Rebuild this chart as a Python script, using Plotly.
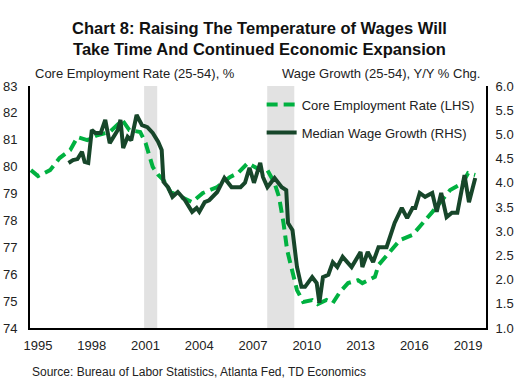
import plotly.graph_objects as go

# Core employment rate (25-54), % (LHS) — decimal year, value
emp_t = [1994.6, 1995.0, 1995.67, 1996.2, 1996.8, 1997.2, 1997.75, 1998.3, 1999.0, 1999.7,
         2000.1, 2000.7, 2001.0, 2001.4, 2001.7, 2002.0, 2002.4, 2003.1, 2003.6, 2004.2,
         2005.0, 2005.7, 2006.15, 2006.7, 2007.2, 2007.8, 2008.2, 2008.45, 2008.7, 2008.9,
         2009.2, 2009.45, 2009.8, 2010.3, 2010.6, 2011.1, 2011.45, 2011.85, 2012.3, 2012.85,
         2013.1, 2013.8, 2014.0, 2014.6, 2015.2, 2015.9, 2016.5, 2017.0, 2018.0, 2018.7,
         2019.0, 2019.4]
emp_v = [79.87, 79.65, 79.87, 80.32, 80.62, 81.10, 80.99, 81.17, 81.29, 81.73,
         81.36, 81.29, 80.88, 79.99, 79.70, 79.50, 79.06, 78.83, 78.68, 79.02,
         79.24, 79.61, 79.76, 80.13, 79.95, 79.87, 79.39, 78.87, 77.90, 76.90,
         76.04, 75.41, 74.97, 75.04, 74.89, 75.04, 74.93, 75.34, 75.67, 75.78,
         75.67, 75.90, 76.34, 76.79, 77.27, 77.46, 77.90, 78.31, 79.13, 79.39,
         79.76, 79.69]

# Median wage growth (25-54), Y/Y % chg. (RHS)
wage_t = [1996.7, 1996.95, 1997.2, 1997.45, 1997.6, 1997.8, 1998.0, 1998.2, 1998.5, 1998.75,
          1999.0, 1999.45, 1999.6, 1999.75, 2000.0, 2000.2, 2000.5, 2000.8, 2001.1, 2001.4,
          2001.7, 2001.9, 2002.0, 2002.25, 2002.5, 2002.8, 2003.2, 2003.6, 2003.85, 2004.0,
          2004.3, 2004.55, 2005.0, 2005.4, 2005.8, 2006.3, 2006.55, 2006.8, 2007.05, 2007.4,
          2007.55, 2007.8, 2008.2, 2008.6, 2008.85, 2008.95, 2009.2, 2009.45, 2009.7, 2009.9,
          2010.3, 2010.55, 2010.7, 2010.9, 2011.2, 2011.45, 2011.7, 2012.0, 2012.5, 2013.0,
          2013.1, 2013.4, 2013.7, 2014.0, 2014.45, 2014.9, 2015.3, 2015.6, 2015.9, 2016.05,
          2016.3, 2016.6, 2017.0, 2017.25, 2017.5, 2017.8, 2018.1, 2018.4, 2018.8, 2019.05,
          2019.4]
wage_v = [4.41, 4.47, 4.49, 4.64, 4.43, 4.41, 5.09, 5.03, 5.03, 5.30,
          4.82, 5.09, 5.30, 4.72, 4.95, 4.88, 5.40, 5.19, 5.15, 5.03,
          4.85, 4.68, 4.02, 3.91, 3.71, 3.81, 3.64, 3.40, 3.48, 3.40,
          3.60, 3.64, 3.81, 4.10, 3.91, 3.91, 4.00, 4.31, 4.00, 4.41,
          4.12, 3.91, 4.10, 3.91, 3.85, 3.17, 3.02, 2.26, 1.85, 1.85,
          2.05, 1.93, 1.52, 2.05, 2.10, 2.36, 2.26, 2.47, 2.26, 2.57,
          2.26, 2.57, 2.36, 2.67, 2.67, 3.17, 3.48, 3.27, 3.48, 3.48,
          3.79, 3.71, 3.79, 3.40, 3.79, 3.29, 3.38, 3.38, 4.16, 3.60,
          4.10]

# Recession periods (decimal years)
recessions = [(2000.92, 2001.65), (2007.79, 2009.30)]

year_ticks = [1995, 1998, 2001, 2004, 2007, 2010, 2013, 2016, 2019]
left_ticks = list(range(74, 84))
right_ticks = [1.0, 1.5, 2.0, 2.5, 3.0, 3.5, 4.0, 4.5, 5.0, 5.5, 6.0]

FONT = "Liberation Sans, Arial, sans-serif"

fig = go.Figure()
fig.add_trace(go.Scatter(
    x=emp_t, y=emp_v, mode="lines", name="Core Employment Rate (LHS)",
    line=dict(color="#00b140", width=4, dash="11px,6px"),
    legendgroup="a", yaxis="y"))
fig.add_trace(go.Scatter(
    x=wage_t, y=wage_v, mode="lines", name="Median Wage Growth (RHS)",
    line=dict(color="#17462a", width=4),
    legendgroup="b", yaxis="y2"))

shapes = []
for a, b in recessions:
    shapes.append(dict(type="rect", xref="x", yref="paper", x0=a, x1=b, y0=0, y1=1,
                       fillcolor="#e2e2e2", line=dict(width=0), layer="below"))

fig.update_layout(
    width=519, height=386,
    margin=dict(l=30, r=33, t=86, b=58, autoexpand=False),
    paper_bgcolor="white", plot_bgcolor="white",
    font=dict(family=FONT, size=13, color="#222"),
    showlegend=True,
    title=dict(
        text="<b>Chart 8: Raising The Temperature of Wages Will<br>Take Time And Continued Economic Expansion</b>",
        x=0.5, xanchor="center", y=0.912, yanchor="middle", yref="container",
        font=dict(family=FONT, size=16.5, color="#111")),
    legend=dict(x=0.508, y=0.985, xanchor="left", yanchor="top",
                bgcolor="rgba(0,0,0,0)", font=dict(size=13, color="#222"),
                traceorder="grouped", tracegroupgap=8),
    shapes=shapes,
    xaxis=dict(range=[1994.55, 2020.0], tickvals=year_ticks,
               ticktext=[str(y) for y in year_ticks], automargin=False,
               showgrid=False, zeroline=False, showline=True, linecolor="black",
               linewidth=2, ticks="", ticklabelstandoff=4),
    yaxis=dict(range=[74, 83], tickvals=left_ticks, showgrid=False, zeroline=False,
               showline=True, linecolor="black", linewidth=2, ticks="",
               ticklabelstandoff=8, automargin=False),
    yaxis2=dict(range=[1, 6], tickvals=right_ticks, tickformat=".1f",
                overlaying="y", side="right", showgrid=False, zeroline=False,
                showline=True, linecolor="black", linewidth=2, ticks="",
                ticklabelstandoff=5, automargin=False),
    annotations=[
        dict(text="Core Employment Rate (25-54), %", xref="paper", yref="paper",
             x=0.006, y=1.05, xanchor="left", yanchor="middle", align="left",
             showarrow=False, font=dict(size=13, color="#222")),
        dict(text="Wage Growth (25-54), Y/Y % Chg.", xref="paper", yref="paper",
             x=0.991, y=1.05, xanchor="right", yanchor="middle", align="right",
             showarrow=False, font=dict(size=13, color="#222")),
        dict(text="Source: Bureau of Labor Statistics, Atlanta Fed, TD Economics",
             xref="paper", yref="paper", x=0.0, y=-0.182, xanchor="left",
             yanchor="middle", align="left", showarrow=False,
             font=dict(size=12, color="#222")),
    ],
)

# remove the browser's default 8px body margin so the figure sits at the page origin
fig.write_html("out.html", config={"displayModeBar": False},
               post_script="document.body.style.margin='0';")
